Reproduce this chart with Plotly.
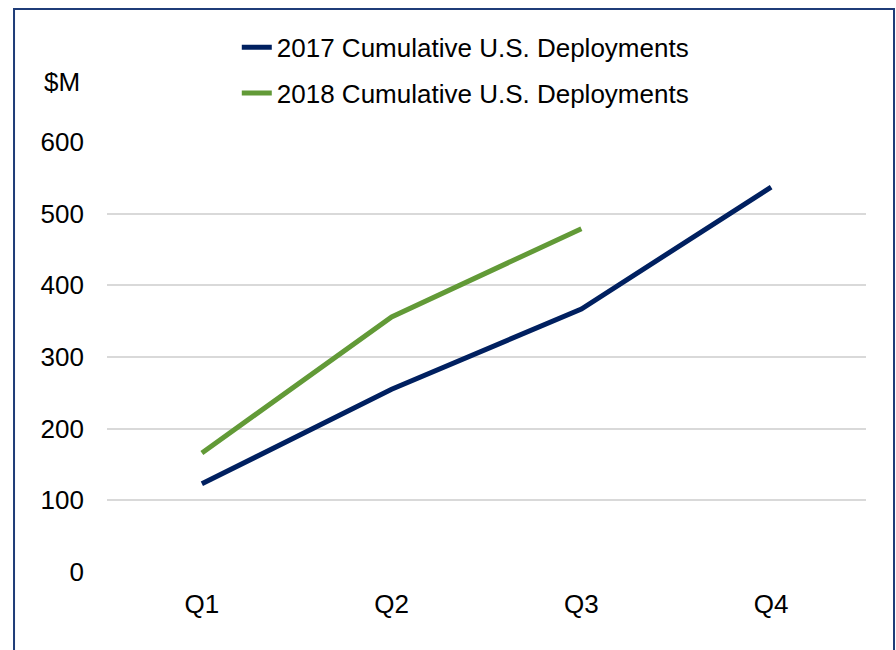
import plotly.graph_objects as go

quarters = ["Q1", "Q2", "Q3", "Q4"]
deploy_2017 = [123, 255, 367, 537]
deploy_2018 = [166, 356, 479]
series_names = ["2017 Cumulative U.S. Deployments", "2018 Cumulative U.S. Deployments"]
y_ticks = [0, 100, 200, 300, 400, 500, 600]

fig = go.Figure()
fig.add_trace(go.Scatter(x=quarters, y=deploy_2017, mode="lines", name=series_names[0],
                         line=dict(color="#002060", width=5), legendgroup="a"))
fig.add_trace(go.Scatter(x=quarters[:3], y=deploy_2018, mode="lines", name=series_names[1],
                         line=dict(color="#629A37", width=5), legendgroup="b"))

font = dict(family="Liberation Sans, Arial, sans-serif", size=26, color="#000000")
fig.update_layout(
    width=896, height=650,
    margin=dict(l=107, r=30, t=142, b=78),
    paper_bgcolor="white", plot_bgcolor="white",
    font=font,
    showlegend=True,
    legend=dict(x=0.171, y=1.275, xanchor="left", yanchor="top", tracegroupgap=9,
                bgcolor="rgba(0,0,0,0)", font=font),
    xaxis=dict(type="category", range=[-0.5, 3.5], showgrid=False, showline=False,
               zeroline=False, ticks="", ticklabelstandoff=14, tickfont=font),
    yaxis=dict(range=[0, 600], tickvals=y_ticks, showgrid=True, gridcolor="#D9D9D9",
               gridwidth=2, zeroline=False, showline=False, ticks="",
               ticklabelstandoff=22, tickfont=font),
    annotations=[dict(text="$M", xref="paper", yref="paper", x=-0.059, y=1.1395,
                      showarrow=False, font=font, xanchor="center", yanchor="middle")],
    shapes=[dict(type="rect", xref="paper", yref="paper", x0=-0.1225, x1=1.0369,
                 y0=-0.21, y1=1.3093, line=dict(color="#1F3C78", width=2),
                 fillcolor="rgba(0,0,0,0)", layer="below")],
)

fig.write_html("out.html")
